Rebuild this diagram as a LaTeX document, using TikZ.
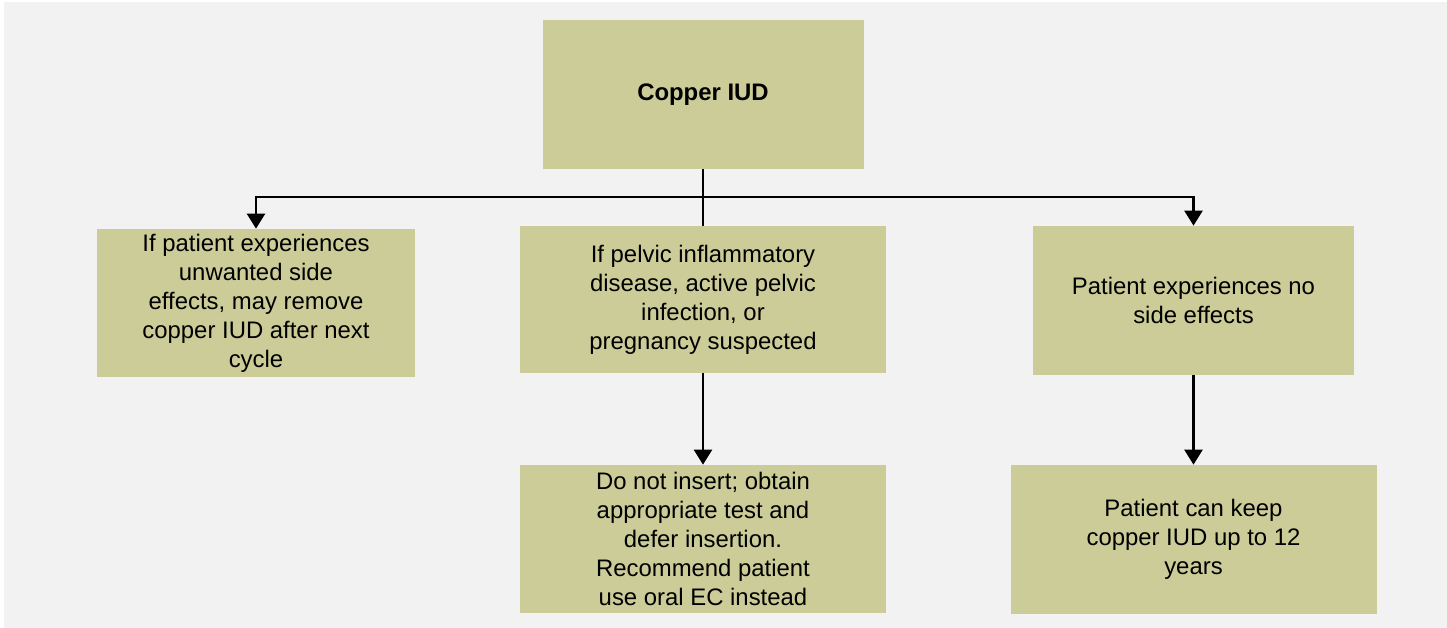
\documentclass[tikz,border=0pt]{standalone}
\usepackage{fontspec}
\setmainfont{Liberation Sans}
\usepackage{tikz}
\usetikzlibrary{arrows.meta}
\definecolor{boxfill}{HTML}{CCCC99}
\definecolor{bggray}{HTML}{F2F2F2}

\begin{document}
\begin{tikzpicture}[
    box/.style={fill=boxfill,draw=none,align=center,inner sep=2pt,
      font=\fontsize{13.6}{16.5}\selectfont},
    conn/.style={line width=1.4pt,draw=black},
    arr/.style={conn,-{Triangle[width=0.36cm,length=0.3cm]}}
  ]
      \useasboundingbox (0,0) rectangle (28.94,-12.56);
      \fill[bggray] (0.08,-0.04) rectangle (28.94,-12.56);

      \node[box,minimum width=6.42cm,minimum height=2.98cm] (a) at (14.06,-1.89){\textbf{Copper IUD}};
      \node[box,minimum width=6.36cm,minimum height=2.96cm] (b) at (5.12,-6.06){If patient experiences\\unwanted side\\effects, may remove\\copper IUD after next\\cycle};
      \node[box,minimum width=7.32cm,minimum height=2.94cm] (c) at (14.06,-5.99){If pelvic inflammatory\\disease, active pelvic\\infection, or\\pregnancy suspected};
      \node[box,minimum width=6.42cm,minimum height=2.98cm] (d) at (23.87,-6.01){Patient experiences no\\side effects};
      \node[box,minimum width=7.32cm,minimum height=2.96cm] (e) at (14.06,-10.78){Do not insert; obtain\\appropriate test and\\defer insertion.\\Recommend patient\\use oral EC instead};
      \node[box,minimum width=7.32cm,minimum height=2.98cm] (f) at (23.87,-10.79){Patient can keep\\copper IUD up to 12\\years};

      \coordinate (s) at (14.06,-3.94);

      \draw[conn] (a.south) -- (s);
      \draw[arr] (s) -| (b.north);
      \draw[arr] (s) -| (d.north);
      \draw[line width=0.6pt] (s) -- (c.north);
      \draw[arr] (c.south) -- (e.north);
      \draw[arr] (d.south) -- (f.north);
\end{tikzpicture}
\end{document}
